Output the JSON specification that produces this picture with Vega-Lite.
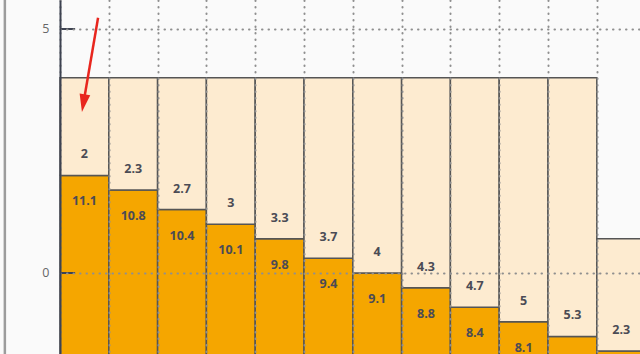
{
  "$schema": "https://vega.github.io/schema/vega-lite/v6.json",
  "width": 600,
  "height": 354,
  "autosize": "none",
  "padding": {"left": 60, "top": 0, "right": 0, "bottom": 0},
  "background": "#fafafa",
  "config": {"view": {"stroke": null}},
  "datasets": {
    "bars": [
      {"i0": 0, "i1": 1, "seg": "dark", "lo": -9.1, "hi": 2, "label": "11.1"},
      {"i0": 0, "i1": 1, "seg": "light", "lo": 2, "hi": 4, "label": "2"},
      {"i0": 1, "i1": 2, "seg": "dark", "lo": -9.1, "hi": 1.7, "label": "10.8"},
      {"i0": 1, "i1": 2, "seg": "light", "lo": 1.7, "hi": 4, "label": "2.3"},
      {"i0": 2, "i1": 3, "seg": "dark", "lo": -9.1, "hi": 1.3, "label": "10.4"},
      {"i0": 2, "i1": 3, "seg": "light", "lo": 1.3, "hi": 4, "label": "2.7"},
      {"i0": 3, "i1": 4, "seg": "dark", "lo": -9.1, "hi": 1, "label": "10.1"},
      {"i0": 3, "i1": 4, "seg": "light", "lo": 1, "hi": 4, "label": "3"},
      {"i0": 4, "i1": 5, "seg": "dark", "lo": -9.1, "hi": 0.7, "label": "9.8"},
      {"i0": 4, "i1": 5, "seg": "light", "lo": 0.7, "hi": 4, "label": "3.3"},
      {"i0": 5, "i1": 6, "seg": "dark", "lo": -9.1, "hi": 0.3, "label": "9.4"},
      {"i0": 5, "i1": 6, "seg": "light", "lo": 0.3, "hi": 4, "label": "3.7"},
      {"i0": 6, "i1": 7, "seg": "dark", "lo": -9.1, "hi": 0, "label": "9.1"},
      {"i0": 6, "i1": 7, "seg": "light", "lo": 0, "hi": 4, "label": "4"},
      {"i0": 7, "i1": 8, "seg": "dark", "lo": -9.1, "hi": -0.3, "label": "8.8"},
      {"i0": 7, "i1": 8, "seg": "light", "lo": -0.3, "hi": 4, "label": "4.3"},
      {"i0": 8, "i1": 9, "seg": "dark", "lo": -9.1, "hi": -0.7, "label": "8.4"},
      {"i0": 8, "i1": 9, "seg": "light", "lo": -0.7, "hi": 4, "label": "4.7"},
      {"i0": 9, "i1": 10, "seg": "dark", "lo": -9.1, "hi": -1, "label": "8.1"},
      {"i0": 9, "i1": 10, "seg": "light", "lo": -1, "hi": 4, "label": "5"},
      {"i0": 10, "i1": 11, "seg": "dark", "lo": -9.1, "hi": -1.3, "label": ""},
      {"i0": 10, "i1": 11, "seg": "light", "lo": -1.3, "hi": 4, "label": "5.3"},
      {"i0": 11, "i1": 12, "seg": "dark", "lo": -9.1, "hi": -1.6, "label": ""},
      {"i0": 11, "i1": 12, "seg": "light", "lo": -1.6, "hi": 0.7, "label": "2.3"}
    ],
    "arrow": [{"x1": 0.78, "y1": 5.23, "x2": 0.48, "y2": 3.48}],
    "yticks": [{"y": 0}, {"y": 5}]
  },
  "layer": [
    {
      "data": {"name": "bars"},
      "mark": {"type": "rect", "stroke": "#555555", "strokeWidth": 1.5},
      "encoding": {
        "x": {
          "field": "i0", "type": "quantitative",
          "scale": {"domain": [0, 12.295], "nice": false, "zero": false},
          "axis": {"values": [0,1,2,3,4,5,6,7,8,9,10,11,12], "labels": false, "ticks": false, "domain": false, "title": null, "grid": true, "gridColor": "#8f8f8f", "gridDash": [0.5, 6], "gridCap": "round", "gridWidth": 2, "zindex": 1}
        },
        "x2": {"field": "i1"},
        "y": {
          "field": "lo", "type": "quantitative",
          "scale": {"domain": [-1.66, 5.594], "nice": false, "zero": false},
          "axis": {"values": [0, 5], "title": null, "ticks": false, "tickSize": 0, "labelPadding": 11, "labelColor": "#666666", "labelFontSize": 12.5, "labelFont": "Open Sans", "domainColor": "#3d4250", "domainWidth": 2, "grid": true, "gridColor": "#8f8f8f", "gridDash": [0.5, 6], "gridCap": "round", "gridWidth": 2, "zindex": 1}
        },
        "y2": {"field": "hi"},
        "color": {"field": "seg", "type": "nominal", "scale": {"domain": ["dark", "light"], "range": ["#f5a600", "#fdebd0"]}, "legend": null}
      }
    },
    {
      "data": {"name": "yticks"},
      "mark": {"type": "rule", "color": "#3d4250", "strokeWidth": 2},
      "encoding": {
        "x": {"datum": 0, "type": "quantitative"},
        "x2": {"datum": 0.31},
        "y": {"field": "y", "type": "quantitative"}
      }
    },
    {
      "data": {"values": [{"x": -1.13}]},
      "mark": {"type": "rule", "color": "#9c9c9c", "strokeWidth": 2.5},
      "encoding": {"x": {"field": "x", "type": "quantitative"}}
    },
    {
      "data": {"name": "bars"},
      "transform": [{"filter": "datum.seg === 'light'"}],
      "mark": {"type": "text", "dy": -21, "font": "Open Sans", "fontWeight": 700, "fontSize": 12.5, "color": "#4b4b55"},
      "encoding": {
        "x": {"field": "i0", "type": "quantitative"},
        "xOffset": {"value": 24.4},
        "y": {"field": "lo", "type": "quantitative"},
        "text": {"field": "label"}
      }
    },
    {
      "data": {"name": "bars"},
      "transform": [{"filter": "datum.seg === 'dark'"}],
      "mark": {"type": "text", "dy": 26, "font": "Open Sans", "fontWeight": 700, "fontSize": 12.5, "color": "#4b4b55"},
      "encoding": {
        "x": {"field": "i0", "type": "quantitative"},
        "xOffset": {"value": 24.4},
        "y": {"field": "hi", "type": "quantitative"},
        "text": {"field": "label"}
      }
    },
    {
      "data": {"name": "arrow"},
      "mark": {"type": "rule", "color": "#e8261e", "strokeWidth": 2.5},
      "encoding": {
        "x": {"field": "x1", "type": "quantitative"},
        "x2": {"field": "x2"},
        "y": {"field": "y1", "type": "quantitative"},
        "y2": {"field": "y2"}
      }
    },
    {
      "data": {"name": "arrow"},
      "mark": {"type": "point", "shape": "M0,-1L0.6,1L-0.6,1Z", "size": 324, "filled": true, "color": "#e8261e", "opacity": 1, "angle": 189.6},
      "encoding": {
        "x": {"field": "x2", "type": "quantitative"},
        "y": {"field": "y2", "type": "quantitative"}
      }
    }
  ]
}
